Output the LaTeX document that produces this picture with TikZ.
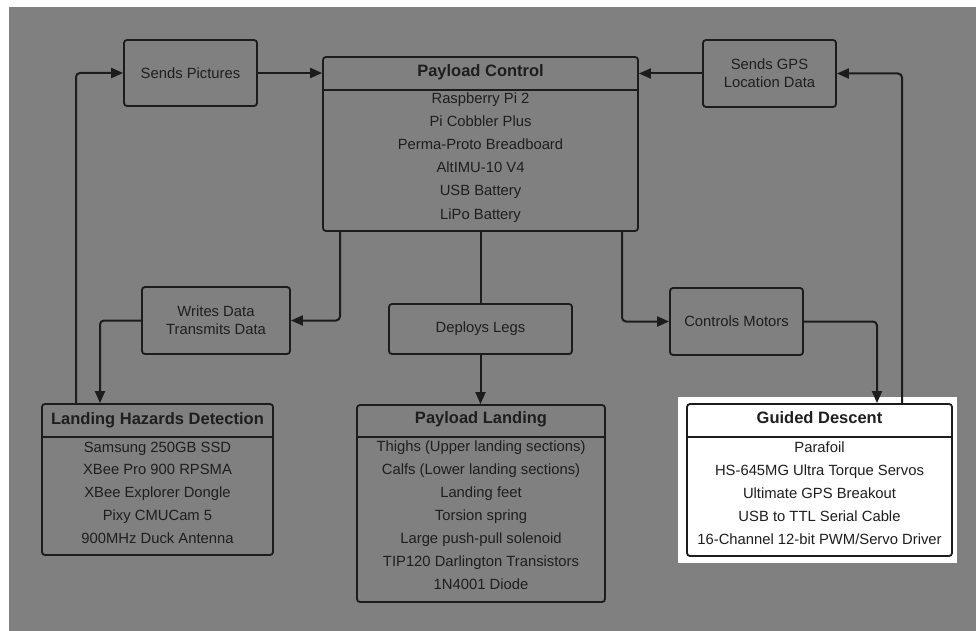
\documentclass[tikz,border=0pt]{standalone}
\usepackage{fontspec}
\setmainfont{Liberation Sans}
\usetikzlibrary{arrows.meta}
\definecolor{bggray}{HTML}{808080}
\definecolor{linec}{HTML}{1C1C1C}
\definecolor{txtc}{HTML}{1E1E1E}
\tikzset{
  box/.style={draw=linec, line width=1.8pt, rounded corners=3pt, inner sep=0pt, text=txtc,
    font=\fontsize{14.8}{18}\selectfont, align=center},
  hdr/.style={inner sep=0pt, text=txtc, text height=12pt, text depth=3.5pt, font=\fontsize{16.5}{19}\selectfont\bfseries},
  item/.style={inner sep=0pt, text=txtc, text height=11pt, text depth=3pt, font=\fontsize{14.8}{18}\selectfont},
  sep/.style={draw=linec, line width=1.6pt},
  conn/.style={draw=linec, line width=2pt, rounded corners=4pt},
  arr/.style={conn, -{Triangle[length=12pt,width=10pt]}}
}
\begin{document}
\begin{tikzpicture}[x=1pt,y=-1pt]
\fill[white] (0,0) rectangle (976,631);
\fill[bggray] (9,7) rectangle (976,631);
\useasboundingbox (0,0) rectangle (976,631);
\fill[white] (678,397) rectangle (957,563);

% simple boxes
\node[box, minimum width=133pt, minimum height=66pt] (sp) at (190.5,73) {Sends Pictures};
\node[box, minimum width=133pt, minimum height=67pt] (gps) at (769.5,73.5) {Sends GPS\\Location Data};
\node[box, minimum width=148pt, minimum height=67pt] (wd) at (216,320.5) {Writes Data\\Transmits Data};
\node[box, minimum width=183pt, minimum height=50pt] (dl) at (480.5,329) {Deploys Legs};
\node[box, minimum width=133pt, minimum height=67pt] (cm) at (736.5,321.5) {Controls Motors};

% compartment boxes
\node[box, minimum width=315pt, minimum height=174pt] (pc) at (480.5,144) {};
\draw[sep] (pc.west |- 0,90) -- (pc.east |- 0,90);
\node[hdr] (pch) at (480.5,72) {Payload Control};
\foreach \t [count=\i] in {Raspberry Pi 2, Pi Cobbler Plus, Perma-Proto Breadboard, AltIMU-10 V4, USB Battery, LiPo Battery}
  \node[item] (pci\i) at (480.5,{100+(\i-1)*23}) {\t};

\node[box, minimum width=231pt, minimum height=151pt] (lh) at (157.5,479.5) {};
\draw[sep] (lh.west |- 0,437) -- (lh.east |- 0,437);
\node[hdr] (lhh) at (157.5,420) {Landing Hazards Detection};
\foreach \t [count=\i] in {Samsung 250GB SSD, XBee Pro 900 RPSMA, XBee Explorer Dongle, Pixy CMUCam 5, 900MHz Duck Antenna}
  \node[item] (lhi\i) at (157.5,{448+(\i-1)*22.8}) {\t};

\node[box, minimum width=248pt, minimum height=197pt] (pl) at (481,503.5) {};
\draw[sep] (pl.west |- 0,437) -- (pl.east |- 0,437);
\node[hdr] (plh) at (481,419) {Payload Landing};
\foreach \t [count=\i] in {Thighs (Upper landing sections), Calfs (Lower landing sections), Landing feet, Torsion spring, Large push-pull solenoid, TIP120 Darlington Transistors, 1N4001 Diode}
  \node[item] (pli\i) at (481,{447+(\i-1)*23}) {\t};

\node[box, fill=white, minimum width=265pt, minimum height=152pt] (gd) at (819.5,480) {};
\draw[sep] (gd.west |- 0,437) -- (gd.east |- 0,437);
\node[hdr] (gdh) at (819.5,419) {Guided Descent};
\foreach \t [count=\i] in {Parafoil, HS-645MG Ultra Torque Servos, Ultimate GPS Breakout, USB to TTL Serial Cable, 16-Channel 12-bit PWM/Servo Driver}
  \node[item] (gdi\i) at (819.5,{448+(\i-1)*23}) {\t};

% helper coordinates
\coordinate (c1) at (76,0);
\coordinate (c4) at (902,0);
\coordinate (c5) at (340,0);
\coordinate (c6) at (100,0);
\coordinate (c9) at (622,0);
\coordinate (c10) at (877,0);

% connectors
\draw[arr] (lh.north -| c1) |- (sp.west);
\draw[arr] (sp.east) -- (sp.east -| pc.west);
\draw[arr] (gps.west) -- (gps.west -| pc.east);
\draw[arr] (gd.north -| c4) |- (gps.east);
\draw[arr] (pc.south -| c5) |- (wd.east);
\draw[arr] (wd.west) -| (lh.north -| c6);
\draw[conn] (pc.south -| dl.north) -- (dl.north);
\draw[arr] (dl.south) -- (dl.south |- pl.north);
\draw[arr] (pc.south -| c9) |- (cm.west);
\draw[arr] (cm.east) -| (gd.north -| c10);
\end{tikzpicture}
\end{document}
